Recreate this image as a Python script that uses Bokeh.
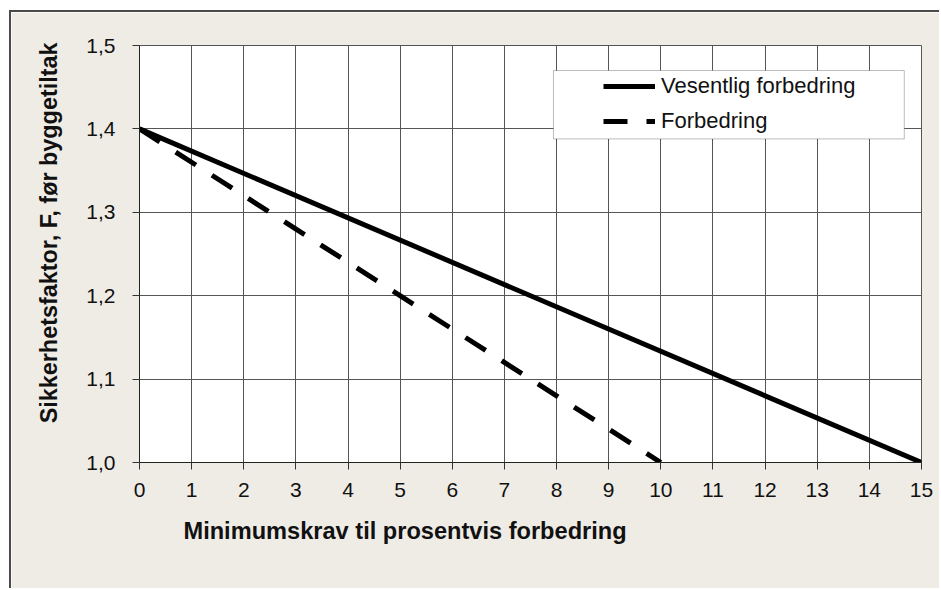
import math
from bokeh.plotting import figure
from bokeh.models import (Range1d, FixedTicker, CustomJSTickFormatter, Legend, LegendItem,
                          Title, BoxAnnotation)
from bokeh.embed import file_html
from bokeh.resources import INLINE

# ---- data ----
x_vesentlig = [0, 15]
f_vesentlig = [1.4, 1.0]
x_forbedring = [0, 10]
f_forbedring = [1.4, 1.0]
series_labels = ["Vesentlig forbedring", "Forbedring"]
x_ticks = list(range(0, 16))
y_ticks = [1.0, 1.1, 1.2, 1.3, 1.4, 1.5]
x_title = "Minimumskrav til prosentvis forbedring"
y_title = "Sikkerhetsfaktor, F, før byggetiltak"

BG = "#efece6"
GRID = "#555555"
FONT = "Liberation Sans"

p = figure(width=930, height=578, output_backend="svg", toolbar_location=None,
           x_range=Range1d(0, 15), y_range=Range1d(1.0, 1.5),
           min_border_left=128, min_border_right=20, min_border_top=33, min_border_bottom=128,
           background_fill_color="white", border_fill_color=BG)

p.outline_line_color = GRID
p.outline_line_width = 1

for ax in (p.xaxis[0], p.yaxis[0]):
    ax.axis_line_color = "#222222"
    ax.axis_line_width = 1
    ax.major_tick_line_color = "#333333"
    ax.major_tick_out = 7
    ax.major_tick_in = 0
    ax.minor_tick_line_color = None
    ax.major_label_text_font = FONT
    ax.major_label_text_font_size = "21px"
    ax.major_label_text_color = "#111111"

p.xaxis.ticker = FixedTicker(ticks=x_ticks)
p.yaxis.ticker = FixedTicker(ticks=y_ticks)
p.yaxis.formatter = CustomJSTickFormatter(code="return tick.toFixed(1).replace('.', ',');")
p.xaxis.major_label_standoff = 13
p.yaxis.major_label_standoff = 17

p.xgrid.ticker = FixedTicker(ticks=x_ticks)
p.ygrid.ticker = FixedTicker(ticks=y_ticks)
for g in (p.xgrid[0], p.ygrid[0]):
    g.grid_line_color = GRID
    g.grid_line_width = 1

r1 = p.line(x_vesentlig, f_vesentlig, line_color="black", line_width=5)
r2 = p.line(x_forbedring, f_forbedring, line_color="black", line_width=5, line_dash="24 19")

# legend box (decoration)
box = BoxAnnotation(left=7.94, right=14.67, top=1.470, bottom=1.388,
                    fill_color="white", fill_alpha=1.0, line_color="#222222", line_width=1)
p.add_layout(box)

legend = Legend(items=[LegendItem(label=series_labels[0], renderers=[r1]),
                       LegendItem(label=series_labels[1], renderers=[r2])],
                location=(464, 328), padding=0, margin=0, spacing=9,
                glyph_width=52, glyph_height=20, label_height=20, label_standoff=6,
                label_text_font=FONT, label_text_font_size="22px", label_text_color="#111111",
                border_line_color=None, background_fill_alpha=0)
p.add_layout(legend, "center")

p.add_layout(Title(text=x_title, text_font=FONT, text_font_style="bold",
                   text_font_size="23.6px", align="left", offset=44, standoff=32,
                   text_color="#111111"), "below")
p.add_layout(Title(text=y_title, text_font=FONT, text_font_style="bold",
                   text_font_size="23.4px", align="right", offset=-3, standoff=44,
                   text_color="#111111"), "left")

p.styles = {"margin-left": "9px", "margin-top": "10px",
            "border-left": "2px solid #4a4a4a", "border-top": "2px solid #4a4a4a"}

open("out.html", "w").write(file_html(p, INLINE))
